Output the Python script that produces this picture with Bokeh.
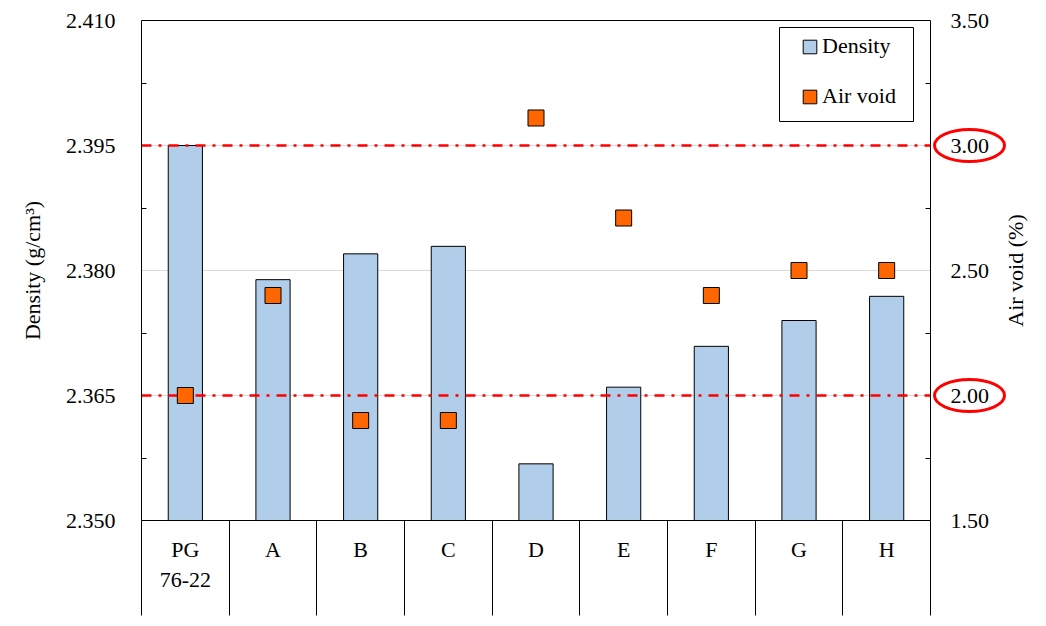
import math
from bokeh.plotting import figure
from bokeh.models import (Range1d, LinearAxis, FixedTicker, Legend, LegendItem, Label,
                          NumeralTickFormatter, BoxAnnotation, ColumnDataSource)
from bokeh.embed import file_html
from bokeh.resources import INLINE

# ---- data ----
categories = ["PG\n76-22", "A", "B", "C", "D", "E", "F", "G", "H"]
density = [2.395, 2.3789, 2.3820, 2.3829, 2.3568, 2.3660, 2.3709, 2.3740, 2.3769]
air_void = [2.00, 2.40, 1.90, 1.90, 3.11, 2.71, 2.40, 2.50, 2.50]
density_ticks = [2.350, 2.365, 2.380, 2.395, 2.410]
air_void_ticks = [1.50, 2.00, 2.50, 3.00, 3.50]
air_void_limits = [2.00, 3.00]

FONT = "Liberation Serif"
FS = "22px"
BAR_COLOR = "#b0cde9"
PT_COLOR = "#ff6600"
RED = "#ff0000"

# ---- layout (pixels): the frame covers the whole canvas, axes sit at fixed locations ----
W, H = 1040, 620
LEFT, TOP, PLOT_RIGHT, BOTTOM = 141, 20, 930, 520

n = len(categories)
xs = [i + 0.5 for i in range(n)]
bounds = list(range(n + 1))
d_minor = [(a + b) / 2 for a, b in zip(density_ticks, density_ticks[1:])]
a_minor = [(a + b) / 2 for a, b in zip(air_void_ticks, air_void_ticks[1:])]

px_x = (PLOT_RIGHT - LEFT) / n
d_lo, d_hi = density_ticks[0], density_ticks[-1]
a_lo, a_hi = air_void_ticks[0], air_void_ticks[-1]
d_px = (d_hi - d_lo) / (BOTTOM - TOP)
a_px = (a_hi - a_lo) / (BOTTOM - TOP)

def sx(px):
    return (px - LEFT) / px_x

def sy(py):
    return d_lo + (BOTTOM - py) * d_px

src = ColumnDataSource(dict(x=xs, density=density, air_void=air_void))

p = figure(width=W, height=H,
           x_range=Range1d(sx(0), sx(W)),
           y_range=Range1d(sy(H), sy(0)),
           output_backend="svg", toolbar_location=None,
           x_axis_type=None, y_axis_type=None,
           min_border=0)
p.extra_y_ranges = {"av": Range1d(a_lo - (H - BOTTOM) * a_px, a_hi + TOP * a_px)}
p.outline_line_color = None
p.background_fill_color = "white"
p.border_fill_color = "white"

# horizontal grid lines (light) and the top frame line, over the category span only
inner = density_ticks[1:-1]
p.segment(x0=[0] * len(inner), x1=[n] * len(inner), y0=inner, y1=inner,
          line_color="#d9d9d9", line_width=1)
p.segment(x0=[0], x1=[n], y0=[d_hi], y1=[d_hi], line_color="black", line_width=1)

def style_axis(ax):
    ax.axis_line_color = "black"
    ax.axis_line_width = 1
    ax.major_label_text_font = FONT
    ax.major_label_text_font_size = FS
    ax.major_label_text_color = "black"
    ax.major_tick_in = 0
    ax.major_tick_out = 0
    ax.minor_tick_line_color = "black"

# left axis
yl = LinearAxis(ticker=FixedTicker(ticks=density_ticks, minor_ticks=d_minor),
                formatter=NumeralTickFormatter(format="0.000"),
                fixed_location=0, bounds=(d_lo, d_hi))
style_axis(yl)
yl.minor_tick_in = 5
yl.minor_tick_out = 0
yl.major_label_standoff = 26
p.add_layout(yl, "left")

# right axis
yr = LinearAxis(y_range_name="av",
                ticker=FixedTicker(ticks=air_void_ticks, minor_ticks=a_minor),
                formatter=NumeralTickFormatter(format="0.00"),
                fixed_location=n, bounds=(a_lo, a_hi))
style_axis(yr)
yr.minor_tick_in = 5
yr.minor_tick_out = 0
yr.major_label_standoff = 20
p.add_layout(yr, "right")

# bottom category axis; separators are long minor ticks
xb = LinearAxis(ticker=FixedTicker(ticks=xs, minor_ticks=bounds),
                major_label_overrides={x: c for x, c in zip(xs, categories)},
                fixed_location=d_lo, bounds=(0, n))
style_axis(xb)
xb.minor_tick_in = 0
xb.minor_tick_out = 95
xb.minor_tick_line_width = 1
xb.major_label_standoff = -79
p.add_layout(xb, "below")

# axis titles
p.add_layout(Label(x=sx(32), y=(d_lo + d_hi) / 2, text="Density (g/cm³)", angle=math.pi / 2,
                   text_align="center", text_baseline="middle",
                   text_font=FONT, text_font_size=FS, text_color="black"))
p.add_layout(Label(x=sx(1015), y=(a_lo + a_hi) / 2, y_range_name="av", text="Air void (%)",
                   angle=math.pi / 2, text_align="center", text_baseline="middle",
                   text_font=FONT, text_font_size=FS, text_color="black"))

# bars
bars = p.vbar(x="x", top="density", bottom=d_lo, width=0.39, source=src,
              fill_color=BAR_COLOR, line_color="black", line_width=1)

# limit lines (air void 2 % and 3 %)
p.segment(x0=[0] * len(air_void_limits), x1=[n] * len(air_void_limits),
          y0=air_void_limits, y1=air_void_limits, y_range_name="av",
          line_color=RED, line_width=2.5, line_dash="10 7 3 7")

# air void points
pts = p.scatter(x="x", y="air_void", source=src, y_range_name="av", marker="square",
                size=16, fill_color=PT_COLOR, line_color="black", line_width=1)

# red ellipses around the limit labels on the right axis
p.ellipse(x=[sx(PLOT_RIGHT + 39)] * len(air_void_limits), y=air_void_limits, y_range_name="av",
          width=70, height=32, width_units="screen", height_units="screen",
          fill_alpha=0, line_color=RED, line_width=3)

# hidden bar renderer used only for the orange legend swatch
proxy = p.vbar(x="x", top="density", bottom=d_lo, width=0.39, source=src,
               fill_color=PT_COLOR, line_color="black", line_width=1, visible=False)

# legend frame
p.add_layout(BoxAnnotation(left=sx(779), right=sx(913), top=sy(27), bottom=sy(121),
                           fill_color="white", fill_alpha=1,
                           line_color="black", line_alpha=1, line_width=1))

legend = Legend(items=[LegendItem(label="Density", renderers=[bars]),
                       LegendItem(label="Air void", renderers=[proxy])],
                location=(801, H - 109))
legend.label_text_font = FONT
legend.label_text_font_size = FS
legend.label_text_color = "black"
legend.glyph_width = 17
legend.glyph_height = 17
legend.label_height = 24
legend.label_standoff = 4
legend.spacing = 24
legend.padding = 0
legend.margin = 0
legend.border_line_color = None
legend.background_fill_alpha = 0
p.add_layout(legend, "center")

open("out.html", "w").write(file_html(p, INLINE))
